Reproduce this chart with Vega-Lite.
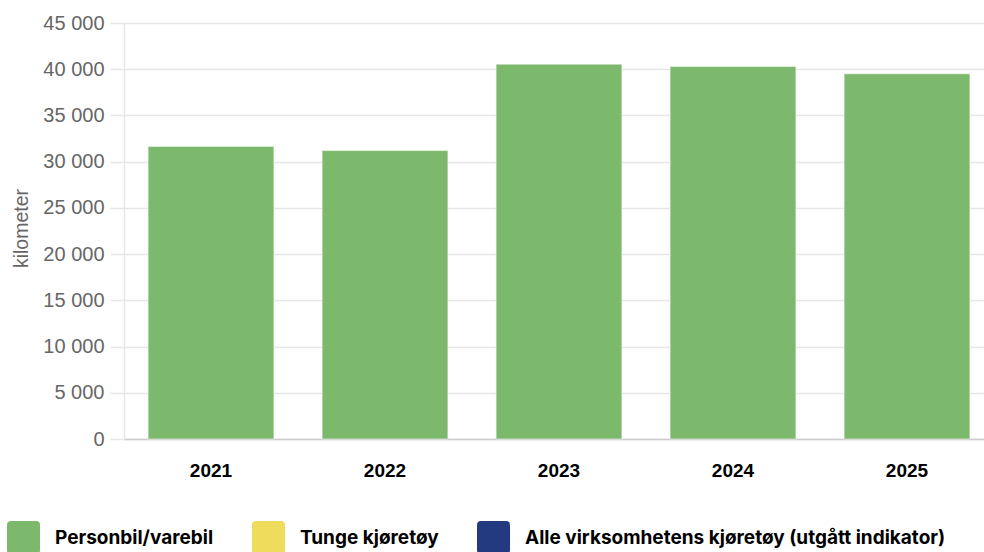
{
  "$schema": "https://vega.github.io/schema/vega-lite/v6.json",
  "autosize": "none",
  "width": 860,
  "height": 416,
  "padding": {"left": 124, "top": 23, "right": 0, "bottom": 113},
  "background": "#ffffff",
  "config": {
    "view": {"stroke": null},
    "locale": {"number": {"decimal": ",", "thousands": " ", "grouping": [3], "currency": ["", " kr"]}},
    "font": "Liberation Sans"
  },
  "data": {
    "values": [
      {"year": "2021", "serie": "Personbil/varebil", "km": 31650},
      {"year": "2022", "serie": "Personbil/varebil", "km": 31200},
      {"year": "2023", "serie": "Personbil/varebil", "km": 40550},
      {"year": "2024", "serie": "Personbil/varebil", "km": 40300},
      {"year": "2025", "serie": "Personbil/varebil", "km": 39500}
    ]
  },
  "mark": {"type": "bar", "stroke": "#ffffff", "strokeWidth": 1, "strokeOpacity": 0.5},
  "encoding": {
    "x": {
      "field": "year",
      "type": "nominal",
      "sort": null,
      "scale": {"range": [0, 870], "paddingInner": 0.277, "paddingOuter": 0.1385},
      "axis": {
        "title": null,
        "labelAngle": 0,
        "labelFont": "Liberation Sans",
        "labelFontSize": 19,
        "labelFontWeight": "bold",
        "labelColor": "#000000",
        "labelPadding": 22,
        "ticks": false,
        "domainColor": "#cccccc",
        "domainWidth": 1.5,
        "grid": false
      }
    },
    "y": {
      "field": "km",
      "type": "quantitative",
      "scale": {"domain": [0, 45000], "nice": false},
      "axis": {
        "title": "kilometer",
        "titleFont": "Liberation Sans",
        "titleFontSize": 19.5,
        "titleFontWeight": "normal",
        "titleColor": "#666666",
        "titleAngle": -90,
        "titleBaseline": "middle",
        "titleX": -103,
        "titleY": 205,
        "values": [0, 5000, 10000, 15000, 20000, 25000, 30000, 35000, 40000, 45000],
        "format": ",d",
        "labelFont": "Liberation Sans",
        "labelFontSize": 20,
        "labelColor": "#666666",
        "labelPadding": 6,
        "tickSize": 14,
        "tickColor": "#e6e6e6",
        "tickWidth": 1.5,
        "gridColor": "#e6e6e6",
        "gridWidth": 1.5,
        "domainColor": "#e6e6e6",
        "domainWidth": 1.5
      }
    },
    "color": {
      "field": "serie",
      "type": "nominal",
      "scale": {
        "domain": ["Personbil/varebil", "Tunge kjøretøy", "Alle virksomhetens kjøretøy (utgått indikator)"],
        "range": ["#7cb96c", "#f0dc5c", "#243a80"]
      },
      "legend": {
        "title": null,
        "orient": "none",
        "legendX": -117,
        "legendY": 498,
        "direction": "horizontal",
        "columns": 3,
        "padding": 0,
        "columnPadding": 38,
        "symbolType": "M -0.76 -1 L 0.76 -1 Q 1 -1 1 -0.76 L 1 0.76 Q 1 1 0.76 1 L -0.76 1 Q -1 1 -1 0.76 L -1 -0.76 Q -1 -1 -0.76 -1 Z",
        "symbolSize": 1089,
        "symbolStrokeWidth": 0,
        "symbolOpacity": 1,
        "labelFont": "Inter",
        "labelFontSize": 19,
        "labelFontWeight": "bold",
        "labelColor": "#000000",
        "labelOffset": 15,
        "labelLimit": 600
      }
    }
  }
}
